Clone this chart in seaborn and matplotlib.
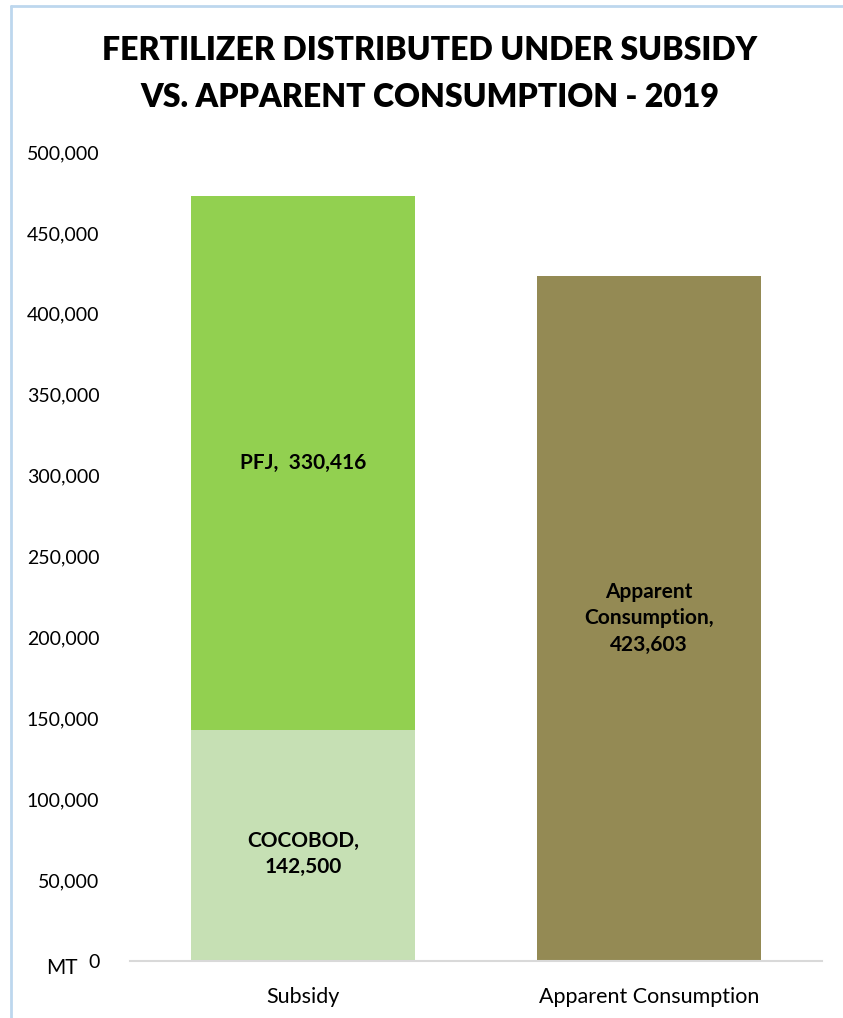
import matplotlib
matplotlib.use("Agg")
import matplotlib.pyplot as plt
import seaborn as sns
from matplotlib.lines import Line2D
from matplotlib.ticker import FuncFormatter

categories = ["Subsidy", "Apparent Consumption"]
cocobod = 142500
pfj = 330416
apparent = 423603
totals = [cocobod + pfj, apparent]
y_ticks = [0, 50000, 100000, 150000, 200000, 250000, 300000, 350000, 400000, 450000, 500000]

sns.set_theme(style="white")
plt.rcParams["font.family"] = ["Lato", "DejaVu Sans"]
plt.rcParams["text.color"] = "#000000"

W, H = 843, 1018
fig = plt.figure(figsize=(W / 100, H / 100), dpi=100)
ax = fig.add_axes([130 / W, 1 - 961 / H, (822 - 130) / W, (961 - 152) / H])

col_pfj = "#92D050"
col_coco = "#C6E0B4"
col_app = "#948A54"

sns.barplot(x=categories, y=totals, hue=categories, palette=[col_pfj, col_app],
            order=categories, hue_order=categories, legend=False, width=0.65,
            saturation=1, ax=ax, linewidth=0)
sns.barplot(x=["Subsidy"], y=[cocobod], order=categories, color=col_coco,
            width=0.65, saturation=1, ax=ax, linewidth=0)

ax.set_xlim(-0.5, 1.5)
ax.set_ylim(0, 500000)
ax.set_yticks(y_ticks)
ax.yaxis.set_major_formatter(FuncFormatter(lambda v, p: f"{int(v):,}"))
ax.tick_params(axis="y", labelsize=14, pad=22, length=0, colors="#000000")
ax.tick_params(axis="x", labelsize=15.5, pad=19, length=0, colors="#000000")
ax.set_xlabel("")
ax.set_ylabel("")
for s in ["top", "right", "left"]:
    ax.spines[s].set_visible(False)
ax.spines["bottom"].set_color("#D9D9D9")
ax.spines["bottom"].set_linewidth(1.5)
ax.grid(False)

lab_kw = dict(ha="center", va="center", fontsize=15, fontweight="bold", color="#000000", linespacing=1.4)
ax.text(0, cocobod + pfj / 2, f"PFJ,  {pfj:,}", **lab_kw)
ax.text(0, cocobod / 2 - 5000, f"COCOBOD,\n{cocobod:,}", **lab_kw)
ax.text(1, apparent / 2, f"Apparent\nConsumption,\n{apparent:,}", **lab_kw)

fig.text(62 / W, 1 - 968 / H, "MT", ha="center", va="center", fontsize=15, color="#000000")

fig.text(430 / W, 1 - 50 / H, "FERTILIZER DISTRIBUTED UNDER SUBSIDY", ha="center", va="center",
         fontsize=23, fontweight="heavy", color="#000000")
fig.text(430 / W, 1 - 97 / H, "VS. APPARENT CONSUMPTION - 2019", ha="center", va="center",
         fontsize=23, fontweight="heavy", color="#000000")

border = "#BDD7EE"
fig.add_artist(Line2D([11 / W, 1], [1 - 6 / H, 1 - 6 / H], transform=fig.transFigure, color=border, lw=2))
fig.add_artist(Line2D([11 / W, 11 / W], [0, 1 - 6 / H], transform=fig.transFigure, color=border, lw=2))

fig.savefig("out.png", dpi=100)
